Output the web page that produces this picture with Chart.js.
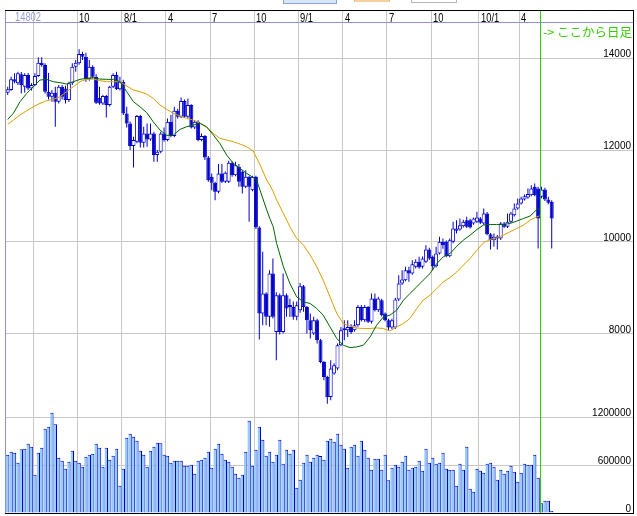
<!DOCTYPE html>
<html>
<head>
<meta charset="utf-8">
<script src="https://cdn.jsdelivr.net/npm/chart.js@4.4.1/dist/chart.umd.min.js"></script>
<style>
html, body { margin: 0; padding: 0; background: #fff; }
canvas { display: block; }
</style>
</head>
<body>
<canvas id="myChart" width="637" height="516"></canvas>
<script>
// ----------------------- DADOS -----------------------
// semanal ate o indice 156, diario depois (ここから日足)
const openP = [13250,13308,13541,13454,13650,13381,13635,13344,13417,13614,13904,13854,13272,13163,13250,13053,13381,13344,13090,13454,
  13817,13890,14094,14036,13541,13817,13599,13140,13017,13177,12981,13381,13635,13323,13490,12799,12581,12086,12181,12741,
  12159,12363,12232,12363,11890,11962,12363,12217,12617,12304,12857,12726,13068,12726,12981,12493,12617,12217,12304,11839,
  11417,11286,11090,11490,11308,11308,11722,11453,11635,11526,11199,11417,11126,11417,10312,8435,8872,8363,9308,8035,
  8835,8035,8835,8617,8580,8363,8508,9031,8580,8290,7999,8290,7853,7380,7053,6617,7126,7235,7744,8072,
  8072,8144,8072,8181,8580,8290,8580,8254,8762,8508,8726,8435,8290,8130,8130,8740,9090,9162,9380,9308,
  9453,9562,9453,9562,9832,9672,9468,9744,9999,9999,9686,9999,10239,10268,10341,10472,10472,10399,10435,10508,
  10399,10617,10166,10035,10072,10072,10399,10326,10435,10581,10726,10835,10922,10966,11017,11199,11163,
  10981,11141,10922,10871];
const highP = [13381,13600,13672,13708,13700,13672,13680,13454,13672,14021,14021,13890,13680,13308,13381,13417,13420,13400,13490,13890,
  13963,14195,14144,14120,13963,13850,13650,13381,13200,13200,13400,13672,13708,13600,13530,12944,12620,12290,12763,12770,
  12508,12581,12581,12400,12000,12400,12493,12690,12763,12944,12900,13148,13100,13126,13000,12650,12650,12363,12330,11870,
  11490,11310,11693,11693,11530,11766,11750,11744,11693,11560,11562,11440,11440,11440,10340,9781,8900,9380,9635,8900,
  8870,9308,8872,8760,8700,8700,9100,9060,8600,8435,8363,8320,7880,7400,7080,7417,7350,7780,8144,8290,
  8290,8200,8290,8620,8620,8620,8600,8872,8872,8800,8760,8460,8320,8320,8780,9272,9380,9453,9453,9599,
  9620,9672,9680,9926,9870,9700,9890,10108,10072,10030,10070,10435,10472,10508,10480,10544,10500,10530,10653,10540,
  10726,10650,10190,10180,10150,10430,10430,10617,10650,10835,10944,10980,11030,11163,11235,11272,11199,
  11199,11180,10981,10908];
const lowP = [13199,13290,13454,13417,13235,13250,13308,13300,13390,13590,13817,13235,13104,13053,12508,13017,13104,13017,13050,13420,
  13708,13860,13963,13490,13510,13560,13003,12990,12980,12712,12950,13350,13308,13300,12763,12493,11999,11621,12150,12057,
  12057,12072,12200,11744,11744,11930,12180,12190,12280,12280,12690,12700,12700,12700,12470,12460,12190,12190,11781,11308,
  11126,10908,11060,11280,11280,11280,11420,11430,11199,11053,11170,10435,11100,10280,7868,8180,8180,8145,8330,7417,
  7980,8000,8363,8360,8300,8290,8450,8472,8000,7890,7970,7781,7350,6981,6471,6544,7100,7200,7720,7853,
  7926,7990,8040,8150,8260,8250,8230,8220,8480,8470,8370,8260,8072,8100,8100,8710,9060,9140,9126,9280,
  9420,9410,9420,9540,9600,9380,9440,9720,9850,9660,9660,9970,10181,10240,10310,10300,10290,10370,10410,10390,
  10370,10140,9832,9890,9832,10040,10300,10300,10410,10550,10700,10810,10900,10940,10990,10990,9854,
  10950,10890,10820,9854];
const closeP = [13323,13541,13490,13672,13417,13635,13344,13417,13614,13904,13854,13272,13163,13250,13053,13381,13163,13090,13454,13817,
  13904,14094,14036,13541,13817,13599,13032,13017,13177,12981,13381,13635,13323,13490,12799,12581,12086,12217,12741,12159,
  12363,12232,12363,11890,11962,12363,12217,12617,12304,12857,12726,13068,12726,12981,12493,12617,12217,12304,11839,11344,
  11286,11090,11490,11308,11504,11722,11453,11671,11308,11199,11417,11199,11417,10312,8435,8872,8363,9308,8363,8835,
  8035,8835,8544,8580,8363,8617,9031,8580,8290,8072,8290,7853,7380,7053,6617,7235,7308,7744,8072,8108,
  8144,8035,8181,8580,8290,8580,8254,8762,8508,8762,8399,8290,8130,8290,8740,9090,9177,9380,9308,9511,
  9562,9439,9635,9832,9635,9468,9744,9999,9926,9686,10035,10290,10290,10363,10435,10326,10312,10508,10530,10413,
  10617,10166,10035,10108,10108,10399,10326,10435,10617,10726,10835,10944,10995,11039,11163,11017,10508,
  11141,10922,10850,10508];
// volume (mil)
const volume = [729,767,754,629,796,804,867,829,479,754,817,1054,1079,1254,1108,692,654,554,642,779,
  654,629,579,704,729,742,867,817,579,817,667,717,804,342,554,942,992,954,904,779,
  729,579,779,829,879,871,729,717,629,654,654,654,592,592,604,492,654,667,692,767,
  567,804,867,742,667,642,579,492,442,479,767,1154,592,792,1079,917,717,767,642,729,
  917,617,792,742,792,317,417,629,729,642,692,729,712,667,904,929,892,992,854,804,
  567,829,854,717,904,792,692,542,679,679,542,729,408,567,604,579,642,717,542,567,
  579,654,529,804,629,692,617,629,754,554,542,542,342,617,542,829,304,267,554,529,
  504,617,629,579,417,542,492,529,592,517,392,504,617,604,604,729,442,
  121,154,154,25];

// medias moveis [semana, valor]
const maCurta = [[0,12668],[1.66,12799],[3.62,13053],[5.58,13235],[7.54,13381],[9.5,13526],[11.46,13541],[13.4,13490],[15.4,13468],[17.3,13439],
  [19.3,13490],[21.3,13541],[23.2,13563],[25.2,13577],[27.1,13548],[29.1,13541],[31.1,13541],[33,13490],[35,13272],[37,13053],
  [38.9,12944],[40.9,12814],[42.8,12617],[44.8,12435],[46.8,12319],[48.7,12326],[50.7,12450],[52.6,12508],[54.6,12544],[56.6,12581],
  [58.5,12508],[60.5,12326],[62.4,12144],[64.4,11890],[66.4,11708],[68.3,11599],[70.3,11490],[72.2,11402],[73.2,11344],[74.2,11126],
  [76.2,10690],[77.1,10508],[78.1,10326],[79.1,9962],[81.1,9453],[83,9090],[85,8799],[87,8690],[89,8653],[90.9,8544],
  [92.8,8399],[94.8,8144],[96.8,7890],[98.7,7744],[100.7,7693],[102.6,7708],[104.6,7744],[106.6,7926],[108.5,8181],[110.5,8362],
  [112.4,8399],[114.4,8508],[116.4,8726],[118.3,8872],[120.3,9017],[122.2,9162],[124.2,9308],[126.2,9526],[128.1,9672],[130.1,9744],
  [132.1,9904],[134,10035],[136,10144],[138,10268],[139.9,10363],[141.9,10377],[143.8,10377],[145.8,10377],[147.7,10399],[149.7,10450],
  [151.7,10508],[153.6,10559],[155.6,10704],[156.4,10726]];
const maLonga = [[0,12559],[1.66,12653],[3.62,12763],[5.58,12857],[7.54,12944],[9.5,13017],[11.46,13075],[13.4,13104],[15.4,13163],[17.3,13272],
  [19.3,13381],[21.3,13490],[23.2,13541],[25.2,13548],[27.1,13512],[29.1,13490],[31.1,13490],[33,13490],[35,13395],[37,13308],
  [38.9,13272],[40.9,13221],[42.8,13126],[44.8,12981],[46.8,12886],[48.7,12799],[50.7,12741],[52.6,12690],[54.6,12653],[56.6,12581],
  [58.5,12493],[60.5,12363],[62.4,12254],[64.4,12217],[66.4,12181],[68.3,12130],[70.3,12072],[72.2,11977],[74.2,11680],[76.2,11344],
  [77.1,11235],[78.1,11090],[79.1,10908],[81.1,10617],[83,10326],[85,10072],[87,9926],[89,9708],[90.9,9453],[92.8,9162],
  [94.8,8799],[96.8,8435],[98.7,8217],[100.7,8159],[102.6,8122],[104.6,8108],[106.6,8108],[108.5,8122],[110.5,8108],[112.4,8057],
  [114.4,8144],[116.4,8217],[118.3,8326],[120.3,8544],[122.2,8726],[124.2,8835],[126.2,8981],[128.1,9126],[130.1,9221],[132.1,9344],
  [134,9490],[136,9635],[138,9817],[139.9,9977],[141.9,10050],[143.8,10086],[145.8,10144],[147.7,10217],[149.7,10290],[151.7,10363],
  [153.6,10472],[155.6,10544],[156.4,10566]];

// eixo de datas (limites de mes) e escalas
const gridWeeks = [7.5, 20.5, 33.5, 46.5, 59.5, 72.5, 85.5, 98.5, 111.5, 124.5, 138.5, 150.5];
const gridLabels = ['', '10', '8/1', '4', '7', '10', '9/1', '4', '7', '10', '10/1', '4'];
const priceTicks = [8000, 10000, 12000, 14000];
const volTicks = [0, 600000, 1200000];
const dailyFrom = 156.5;
const topLabel = '14802';
const dailyNote = '-> ここから日足';

// ----------------------- CORES -----------------------
const azul = '#0000cc';
const cinza = '#c8c8c8';

const corpo = openP.map((o, i) => ({ x: i, y: [o, closeP[i]] }));
const corCorpo = openP.map((o, i) => closeP[i] >= o ? '#ffffff' : azul);
const pavio = lowP.map((l, i) => ({ x: i, y: [l, highP[i]] }));
const vols = volume.map((v, i) => ({ x: i, y: v * 1000 }));

// ----------------------- MOLDURA -----------------------
const moldura = {
  id: 'moldura',
  beforeDraw(chart) {
    const c = chart.ctx;
    c.save();
    c.fillStyle = '#fff';
    c.fillRect(0, 0, chart.width, chart.height);
    // botoes cortados no topo
    c.lineWidth = 1;
    c.fillStyle = '#d6e4f7'; c.strokeStyle = '#8aa6d0';
    c.fillRect(283, -4, 54, 7.5); c.strokeRect(283.5, -4, 53, 7.5);
    c.fillStyle = '#fff'; c.strokeStyle = '#f0a040';
    c.strokeRect(354.5, -4, 35, 5);
    c.strokeStyle = '#b8b8b8';
    c.strokeRect(411.5, -4, 45, 6.5);
    c.restore();
  },
  afterDatasetsDraw(chart) {
    const c = chart.ctx;
    const a = chart.chartArea;
    const x = chart.scales.x, py = chart.scales.price, vy = chart.scales.vol;
    c.save();
    // linha verde: a partir daqui diario
    const gx = Math.round(x.getPixelForValue(dailyFrom));
    c.fillStyle = '#33cc00';
    c.fillRect(gx, a.top, 1, a.bottom - a.top);
    // bordas
    c.fillStyle = '#000';
    c.fillRect(5, a.top, 629, 1);
    c.fillRect(633, a.top, 1, a.bottom - a.top + 1);
    c.fillRect(5, a.bottom, 629, 1);
    c.fillStyle = '#9090e0';
    c.fillRect(5, 22, 628, 1);
    c.fillRect(5, a.top + 1, 1, a.bottom - a.top - 1);
    // datas no cabecalho
    c.fillStyle = '#000';
    c.font = '12px "Liberation Sans"';
    c.textBaseline = 'alphabetic';
    gridWeeks.forEach((w, i) => {
      if (!gridLabels[i]) return;
      const px = Math.round(x.getPixelForValue(w)) + 2;
      c.save();
      c.translate(px, 21.5);
      c.scale(0.78, 1);
      c.fillText(gridLabels[i], 0, 0);
      c.restore();
    });
    c.save();
    c.fillStyle = '#9a9ad6';
    c.translate(15, 21);
    c.scale(0.78, 1);
    c.fillText(topLabel, 0, 0);
    c.restore();
    // rotulos dos eixos
    c.font = '10px "Liberation Sans"';
    c.textAlign = 'right';
    priceTicks.forEach(v => {
      c.fillText(String(v), 631, Math.round(py.getPixelForValue(v)) - 1);
    });
    volTicks.forEach(v => {
      c.fillText(String(v), 631, Math.round(vy.getPixelForValue(v)) - 1);
    });
    // aviso
    c.textAlign = 'left';
    c.fillStyle = '#33cc00';
    c.font = '12.5px "Noto Sans CJK JP"';
    c.fillText(dailyNote, 543, 37);
    c.restore();
  }
};

// ----------------------- GRAFICO -----------------------
const ctx = document.getElementById('myChart');
new Chart(ctx, {
  type: 'bar',
  data: {
    datasets: [
      {
        type: 'line', label: 'MA13', data: maCurta.map(p => ({ x: p[0], y: p[1] })),
        yAxisID: 'price', borderColor: '#006600', borderWidth: 1, pointRadius: 0, tension: 0
      },
      {
        type: 'line', label: 'MA26', data: maLonga.map(p => ({ x: p[0], y: p[1] })),
        yAxisID: 'price', borderColor: '#d9a000', borderWidth: 1, pointRadius: 0, tension: 0
      },
      {
        label: 'corpo', data: corpo, yAxisID: 'price', grouped: false,
        backgroundColor: corCorpo, borderColor: azul, borderWidth: 1, borderSkipped: false,
        barThickness: 4, minBarLength: 2, inflateAmount: 0
      },
      {
        label: 'pavio', data: pavio, yAxisID: 'price', grouped: false,
        backgroundColor: azul, borderWidth: 0, barThickness: 1, inflateAmount: 0
      },
      {
        label: 'volume', data: vols, yAxisID: 'vol', grouped: false,
        backgroundColor: '#96ccfa', borderColor: azul,
        borderWidth: { top: 1, right: 1, left: 0, bottom: 0 }, borderSkipped: false,
        barThickness: 3.4, inflateAmount: 0
      }
    ]
  },
  options: {
    responsive: false,
    animation: false,
    events: [],
    layout: { padding: { left: 6, right: 3, top: 10, bottom: 3 } },
    plugins: { legend: { display: false }, tooltip: { enabled: false } },
    scales: {
      x: {
        type: 'linear', min: -0.5, max: 184.2, offset: false,
        afterBuildTicks: s => { s.ticks = gridWeeks.map(v => ({ value: v })); },
        afterFit: s => { s.height = 0; },
        grid: { color: cinza, drawTicks: false, offset: false },
        border: { display: false },
        ticks: { display: false }
      },
      price: {
        type: 'linear', position: 'right', min: 4087, max: 15053,
        afterBuildTicks: s => { s.ticks = priceTicks.map(v => ({ value: v })); },
        afterFit: s => { s.width = 0; },
        grid: { color: cinza, drawTicks: false },
        border: { display: false },
        ticks: { display: false }
      },
      vol: {
        type: 'linear', position: 'right', min: 0, max: 6287500,
        afterBuildTicks: s => { s.ticks = volTicks.map(v => ({ value: v })); },
        afterFit: s => { s.width = 0; },
        grid: { color: cinza, drawTicks: false },
        border: { display: false },
        ticks: { display: false }
      }
    }
  },
  plugins: [moldura]
});
</script>
</body>
</html>
